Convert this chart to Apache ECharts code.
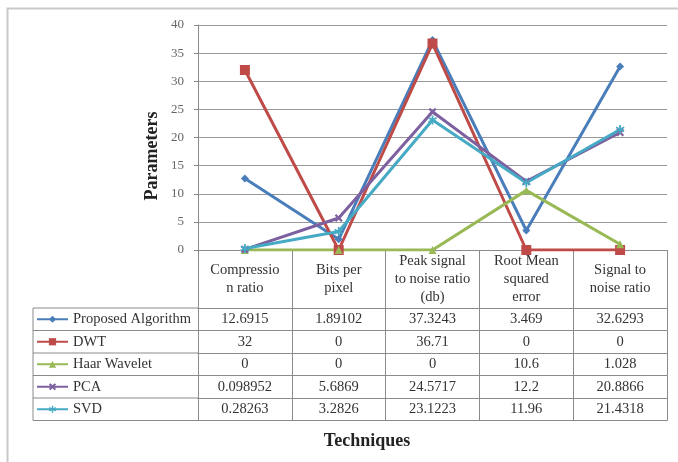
<!DOCTYPE html>
<html>
<head>
<meta charset="utf-8">
<script src="https://cdn.jsdelivr.net/npm/echarts@6/dist/echarts.min.js"></script>
<style>
html,body{margin:0;padding:0;background:#fff;}
#chart{width:678px;height:462px;}
</style>
</head>
<body>
<div id="chart"></div>
<script>
// ---- data ----
var categories = ['Compressio\nn ratio', 'Bits per\npixel', 'Peak signal\nto noise ratio\n(db)', 'Root Mean\nsquared\nerror', 'Signal to\nnoise ratio'];
var seriesNames = ['Proposed Algorithm', 'DWT', 'Haar Wavelet', 'PCA', 'SVD'];
var proposed = [12.6915, 1.89102, 37.3243, 3.469, 32.6293];
var dwt = [32, 0, 36.71, 0, 0];
var haar = [0, 0, 0, 10.6, 1.028];
var pca = [0.098952, 5.6869, 24.5717, 12.2, 20.8866];
var svd = [0.28263, 3.2826, 23.1223, 11.96, 21.4318];
var yTicks = [0, 5, 10, 15, 20, 25, 30, 35, 40];

// ---- layout / style ----
var rows = [proposed, dwt, haar, pca, svd];
var colors = ['#4A7EBB', '#BE4B48', '#98B954', '#7D60A0', '#46AAC5'];
var xPath = 'path://M0,2L2,0L5,3L8,0L10,2L7,5L10,8L8,10L5,7L2,10L0,8L3,5Z';
var starPath = 'path://M4,0H6V3.5L9,1.8L10,3.5L7,5L10,6.5L9,8.2L6,6.5V10H4V6.5L1,8.2L0,6.5L3,5L0,3.5L1,1.8L4,3.5Z';
var symbols = ['diamond', 'rect', 'triangle', xPath, starPath];
var symbolSizes = [8, 10, 8, 8, 9];
var SERIF = '"Liberation Serif","DejaVu Serif",serif';
var gridLeft = 198, gridTop = 25, gridRight = 11, axisY = 250;
var headerH = 58, rowH = 22.5;
var legendLeft = 33;
var lineColor = '#8a8a8a';
var tableFont = 14.5;

var xAxes = [{
  gridIndex: 0, type: 'category', data: categories, boundaryGap: true, position: 'bottom',
  axisLine: {show: true, lineStyle: {color: lineColor, width: 1}},
  axisTick: {show: true, length: headerH, interval: 0, lineStyle: {color: lineColor}},
  axisLabel: {interval: 0, margin: headerH / 2, verticalAlign: 'middle', lineHeight: 18,
    fontFamily: SERIF, fontSize: tableFont, color: '#333'},
  splitLine: {show: false}
}];
rows.forEach(function (vals, r) {
  xAxes.push({
    gridIndex: 0, type: 'category', data: categories, boundaryGap: true, position: 'bottom',
    offset: headerH + r * rowH,
    axisLine: {show: true, lineStyle: {color: lineColor, width: 1}},
    axisTick: {show: true, length: rowH, interval: 0, lineStyle: {color: lineColor}},
    axisLabel: {interval: 0, margin: rowH / 2, verticalAlign: 'middle',
      fontFamily: SERIF, fontSize: tableFont, color: '#333',
      formatter: (function (v) { return function (val, idx) { return String(v[idx]); }; })(vals)},
    splitLine: {show: false}
  });
});
xAxes.push({
  gridIndex: 0, type: 'category', data: categories, boundaryGap: true, position: 'bottom',
  offset: headerH + rows.length * rowH,
  axisLine: {show: true, lineStyle: {color: lineColor, width: 1}},
  axisTick: {show: false}, axisLabel: {show: false}, splitLine: {show: false}
});

var series = rows.map(function (vals, i) {
  return {
    name: seriesNames[i], type: 'line', xAxisIndex: 0, yAxisIndex: 0, data: vals,
    symbol: symbols[i], symbolSize: symbolSizes[i], showAllSymbol: true,
    lineStyle: {width: 3, color: colors[i]},
    itemStyle: {color: colors[i]},
    emphasis: {disabled: true}, animation: false
  };
});

// legend-column borders
var tableTop = axisY + headerH;
var tableBottom = tableTop + rows.length * rowH;
var graphics = [
  {type: 'rect', shape: {x: 7.5, y: 8.5, width: 720, height: 520}, style: {fill: 'none', stroke: '#c9c9c9', lineWidth: 2}, silent: true},
  {type: 'line', shape: {x1: legendLeft, y1: tableTop, x2: legendLeft, y2: tableBottom}, style: {stroke: lineColor, lineWidth: 1}},
  {type: 'text', x: 152, y: 156, rotation: Math.PI / 2,
    style: {text: 'Parameters', font: 'bold 18px ' + SERIF, fill: '#222', align: 'center', verticalAlign: 'middle'}},
  {type: 'text', x: 367, y: 441,
    style: {text: 'Techniques', font: 'bold 18px ' + SERIF, fill: '#222', align: 'center', verticalAlign: 'middle'}}
];
for (var k = 0; k <= rows.length; k++) {
  var yy = tableTop + k * rowH;
  graphics.push({type: 'line', shape: {x1: legendLeft, y1: yy, x2: gridLeft, y2: yy}, style: {stroke: lineColor, lineWidth: 1}});
}

// one legend per table row
var legendH = 16;
var legends = seriesNames.map(function (nm, r) {
  return {
    orient: 'horizontal', left: legendLeft + 3, top: tableTop + r * rowH + (rowH - legendH) / 2,
    padding: 0, itemWidth: 31, itemHeight: 9,
    data: [nm],
    textStyle: {fontFamily: SERIF, fontSize: tableFont, lineHeight: legendH, color: '#333'},
    selectedMode: false
  };
});

var chart = echarts.init(document.getElementById('chart'), null, {renderer: 'canvas'});
chart.setOption({
  animation: false,
  backgroundColor: '#fff',
  grid: [{left: gridLeft, top: gridTop, right: gridRight, bottom: 462 - axisY, containLabel: false}],
  xAxis: xAxes,
  yAxis: [{
    gridIndex: 0, type: 'value', min: yTicks[0], max: yTicks[yTicks.length - 1], interval: yTicks[1] - yTicks[0],
    axisLine: {show: true, lineStyle: {color: lineColor}},
    axisTick: {show: true, length: 4, lineStyle: {color: lineColor}},
    axisLabel: {margin: 14, fontFamily: SERIF, fontSize: 13, color: '#666'},
    splitLine: {show: true, lineStyle: {color: '#999', width: 1}}
  }],
  legend: legends,
  graphic: graphics,
  series: series
});
</script>
</body>
</html>
